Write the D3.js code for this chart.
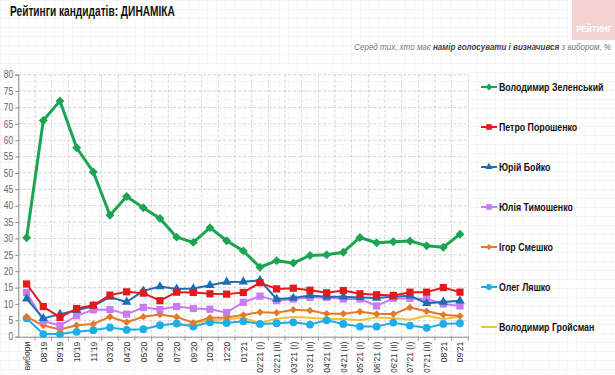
<!DOCTYPE html>
<html>
<head>
<meta charset="utf-8">
<script src="https://cdn.jsdelivr.net/npm/d3@7"></script>
<style>
  body { margin: 0; background: #fff; }
  svg { display: block; font-family: "Liberation Sans", Arial, sans-serif; }
</style>
</head>
<body>
<script>
var labels = ["вибори", "08'19", "09'19", "10'19", "11'19", "03'20", "04'20", "05'20", "06'20", "07'20",
    "09'20", "10'20", "12'20", "01'21", "02'21 (I)", "02'21 (II)", "03'21 (I)", "03'21 (II)",
    "04'21 (I)", "04'21 (II)", "05'21 (I)", "06'21 (I)", "06'21 (II)", "07'21 (I)", "07'21 (II)", "08'21", "09'21"];

var zelensky = [30.2, 66, 72, 57.7, 50.3, 37.1, 42.8, 39.4, 36.1, 30.4, 28.8, 33.3, 29.3, 26.2, 21.2, 23.2, 22.5, 24.8, 25.0, 25.8, 30.3, 28.7, 29.0, 29.2, 27.8, 27.3, 31.3];
var poroshenko = [16.1, 9.2, 5.9, 8.6, 9.6, 12.7, 13.7, 13.3, 11.0, 13.6, 13.5, 13.1, 13.0, 13.5, 16.5, 14.6, 14.8, 14.2, 13.4, 14.1, 13.1, 12.8, 12.6, 13.6, 13.6, 15.0, 13.6];
var boyko = [11.6, 5.6, 6.9, 8.1, 9.4, 12.1, 10.6, 14.0, 15.3, 14.6, 14.7, 15.7, 16.7, 16.8, 17.2, 11.5, 11.8, 12.6, 12.2, 12.2, 12.0, 11.8, 12.2, 12.5, 10.2, 10.6, 11.0];
var tymoshenko = [13.5, 4.8, 3.4, 6.4, 8.2, 8.3, 6.9, 8.9, 8.3, 9.2, 8.6, 8.4, 7.4, 10.5, 12.4, 11.0, 11.5, 12.0, 12.0, 11.5, 11.5, 9.4, 11.7, 11.7, 11.5, 10.0, 9.4];
var smeshko = [6.1, 3.4, 2.2, 3.5, 3.9, 6.1, 4.4, 6.1, 6.8, 6.0, 4.3, 5.8, 5.9, 6.6, 7.5, 7.3, 8.2, 8.0, 7.0, 7.0, 7.6, 6.9, 6.9, 8.9, 7.8, 6.7, 6.3];
var lyashko = [5.6, 0.8, 0.8, 1.5, 2.0, 2.8, 2.1, 2.3, 3.5, 4.0, 3.1, 4.4, 4.2, 4.7, 3.9, 4.1, 4.4, 3.7, 5.0, 3.9, 3.1, 3.1, 4.3, 3.4, 2.7, 3.9, 4.1];
var groysman = [null, null, null, null, null, null, null, null, null, 3.3, 4.0, 5.0, 5.3, 5.8, 4.2, 5.5, 6.0, 5.8, 5.4, 5.4, 5.0, 5.9, 5.6, 5.2, 6.4, 5.4, 6.1];

var yTicks = [0, 5, 10, 15, 20, 25, 30, 35, 40, 45, 50, 55, 60, 65, 70, 75, 80];

// rot: draw a square turned 45deg (diamond marker)
var series = [
    { name: "Володимир Зеленський", values: zelensky, color: "#1ba552", symbol: d3.symbolSquare, rot: 45, size: 40, width: 3 },
    { name: "Петро Порошенко", values: poroshenko, color: "#e3191c", symbol: d3.symbolSquare, rot: 0, size: 52, width: 2 },
    { name: "Юрій Бойко", values: boyko, color: "#1e6cb4", symbol: d3.symbolTriangle, rot: 0, size: 38, width: 2 },
    { name: "Юлія Тимошенко", values: tymoshenko, color: "#c77cf2", symbol: d3.symbolSquare, rot: 0, size: 52, width: 2 },
    { name: "Ігор Смешко", values: smeshko, color: "#e27a27", symbol: d3.symbolSquare, rot: 45, size: 28, width: 2 },
    { name: "Олег Ляшко", values: lyashko, color: "#1daee8", symbol: d3.symbolCircle, rot: 0, size: 48, width: 2 },
    { name: "Володимир Гройсман", values: groysman, color: "#f2c036", symbol: null, rot: 0, size: 0, width: 2 }
];

var W = 615, H = 375;
var svg = d3.select('body').append('svg')
    .attr('width', W)
    .attr('height', H);

// squeeze text along its length (the original uses a narrow font)
function squeeze(sel, k, maxLen) {
    sel.each(function() {
        var len = this.getComputedTextLength() * k;
        if (maxLen && len > maxLen) len = maxLen;
        d3.select(this).attr('textLength', len).attr('lengthAdjust', 'spacingAndGlyphs');
    });
}

// faint paper grid in the background
var defs = svg.append('defs');
var pat = defs.append('pattern')
    .attr('id', 'paper')
    .attr('width', 9).attr('height', 9)
    .attr('patternUnits', 'userSpaceOnUse');
pat.append('path')
    .attr('d', 'M9 0 L0 0 0 9')
    .style('fill', 'none')
    .style('stroke', '#f1f1f1')
    .style('stroke-width', 1);
svg.append('rect').attr('width', W).attr('height', H).style('fill', 'url(#paper)');

// watermark
svg.append('rect')
    .attr('x', 572).attr('y', 0).attr('width', 43).attr('height', 40)
    .style('fill', '#f3d2d2');
svg.append('text')
    .attr('transform', 'translate(594,32) scale(0.85,1)')
    .attr('text-anchor', 'middle')
    .style('font-size', '9px').style('font-weight', 'bold')
    .style('fill', '#fff')
    .text('РЕЙТИНГ');

// title + subtitle
var title = svg.append('text')
    .attr('transform', 'translate(10,16)')
    .style('font-size', '14px').style('font-weight', 'bold')
    .style('fill', '#111')
    .text('Рейтинги кандидатів: ДИНАМІКА');
var tk = 165 / title.node().getComputedTextLength();
title.attr('transform', 'translate(10,16) scale(' + tk + ',1)');

var sub = svg.append('text')
    .attr('text-anchor', 'end')
    .style('font-size', '9px').style('font-style', 'italic')
    .style('fill', '#777');
sub.append('tspan').text('Серед тих, хто має ');
sub.append('tspan').style('font-weight', 'bold').style('fill', '#444').text('намір голосувати і визначився');
sub.append('tspan').text(' з вибором, %');
var sk = 257 / sub.node().getComputedTextLength();
sub.attr('transform', 'translate(611,50) scale(' + sk + ',1)');

var x = d3.scaleBand().domain(labels).range([18.3, 468.3]);
var y = d3.scaleLinear().domain([0, 80]).range([336.7, 74.7]);
var bw = x.bandwidth();
function px(i) { return x(labels[i]) + bw / 2; }

// grid
svg.append('g').selectAll('line').data(yTicks.slice(1))
    .enter().append('line')
    .attr('x1', 18.3).attr('x2', 468.3)
    .attr('y1', function(d) { return y(d); })
    .attr('y2', function(d) { return y(d); })
    .style('stroke', '#d4d4d4').style('stroke-dasharray', '3,2');
svg.append('g').selectAll('line').data(labels)
    .enter().append('line')
    .attr('x1', function(d) { return x(d) + bw; })
    .attr('x2', function(d) { return x(d) + bw; })
    .attr('y1', y(80)).attr('y2', y(0))
    .style('stroke', '#d4d4d4').style('stroke-dasharray', '3,2');

// axes
var yAxis = svg.append('g')
    .attr('transform', 'translate(18.3,0)')
    .call(d3.axisLeft(y).tickValues(yTicks).tickSize(3).tickPadding(2));
yAxis.select('.domain').style('stroke', '#888');
yAxis.selectAll('.tick line').style('stroke', '#888');
yAxis.selectAll('text').style('font-size', '10px').style('fill', '#666')
    .style('font-family', '"Liberation Sans", Arial, sans-serif');
squeeze(yAxis.selectAll('text'), 0.85);

var xAxis = svg.append('g')
    .attr('transform', 'translate(0,' + y(0) + ')')
    .call(d3.axisBottom(x).tickSize(4).tickSizeOuter(0));
xAxis.select('.domain').style('stroke', '#888');
xAxis.selectAll('.tick line').style('stroke', '#999')
    .attr('transform', 'translate(' + (bw / 2) + ',0)');
xAxis.selectAll('text')
    .attr('transform', 'rotate(-90)')
    .attr('x', -5).attr('y', 0).attr('dy', '0.35em')
    .attr('text-anchor', 'end')
    .style('font-size', '9.5px').style('fill', '#333')
    .style('font-family', '"Liberation Sans", Arial, sans-serif');
squeeze(xAxis.selectAll('text'), 0.9, 31);

// lines + markers
var line = d3.line()
    .defined(function(d) { return d != null; })
    .x(function(d, i) { return px(i); })
    .y(function(d) { return y(d); });

series.slice().reverse().forEach(function(s) {
    svg.append('path')
        .datum(s.values)
        .attr('d', line)
        .style('fill', 'none')
        .style('stroke', s.color)
        .style('stroke-width', s.width)
        .style('stroke-linejoin', 'round');
    if (s.symbol) {
        svg.append('g').selectAll('path')
            .data(s.values)
            .enter().filter(function(d) { return d != null; })
            .append('path')
            .attr('transform', function(d, i) { return 'translate(' + px(i) + ',' + y(d) + ') rotate(' + s.rot + ')'; })
            .attr('d', d3.symbol().type(s.symbol).size(s.size))
            .style('fill', s.color);
    }
});

// legend
var ly = d3.scalePoint().domain(series.map(function(s) { return s.name; })).range([87, 327]);
var leg = svg.append('g').selectAll('g').data(series).enter().append('g')
    .attr('transform', function(s) { return 'translate(481,' + ly(s.name) + ')'; });
leg.append('line')
    .attr('x1', 0).attr('x2', 16)
    .style('stroke', function(s) { return s.color; })
    .style('stroke-width', 2);
leg.filter(function(s) { return s.symbol; }).append('path')
    .attr('transform', function(s) { return 'translate(8,0) rotate(' + s.rot + ')'; })
    .attr('d', function(s) { return d3.symbol().type(s.symbol).size(s.size * 0.6)(); })
    .style('fill', function(s) { return s.color; });
leg.append('text')
    .attr('transform', 'translate(18,0) scale(0.8,1)')
    .attr('dy', '0.35em')
    .style('font-size', '11px').style('font-weight', 'bold')
    .style('fill', '#111')
    .text(function(s) { return s.name; });
</script>
</body>
</html>
